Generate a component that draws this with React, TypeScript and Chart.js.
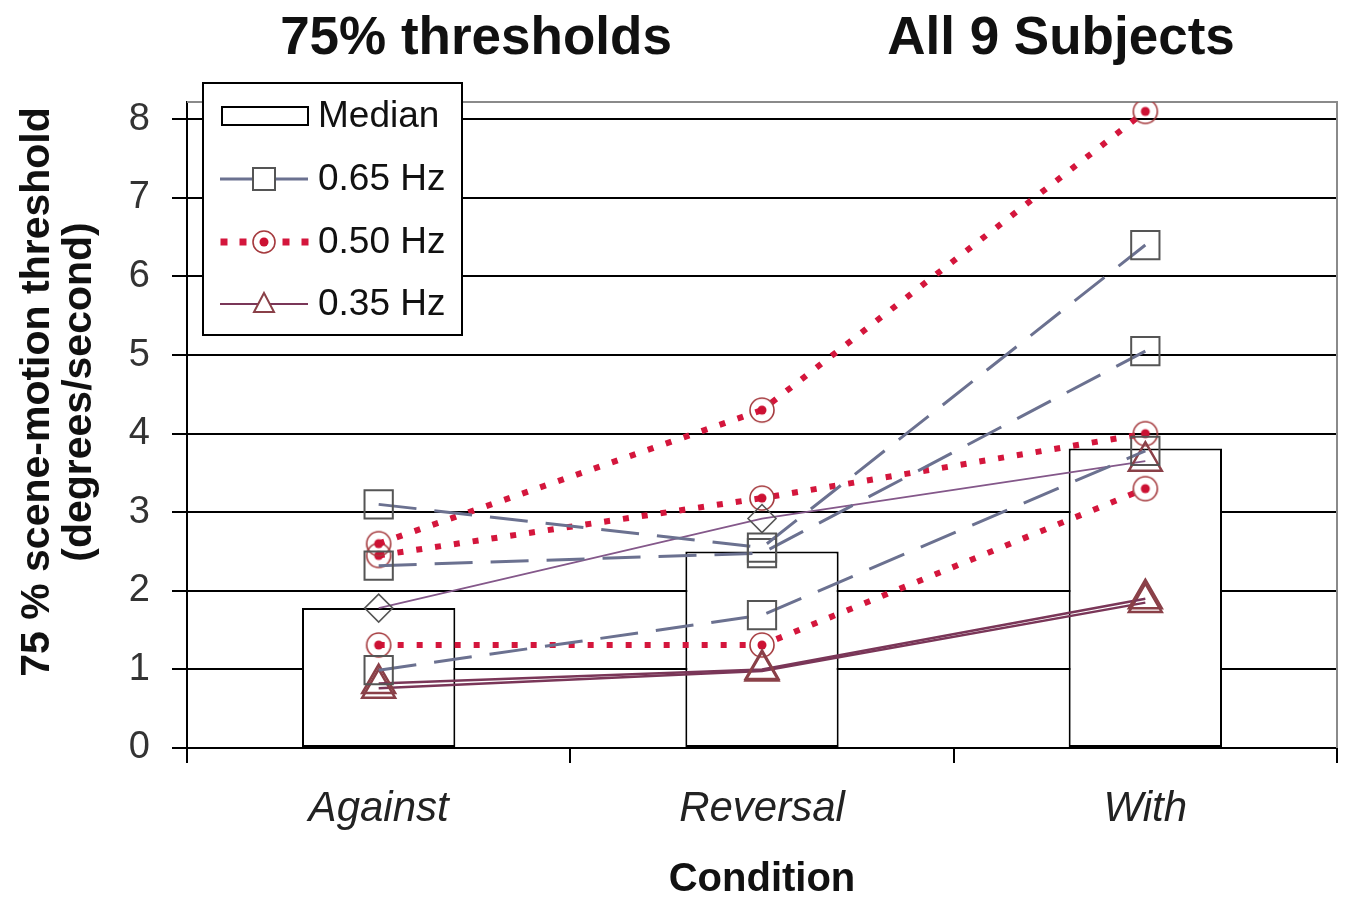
import React, { useEffect, useRef } from "react";
import { Chart, registerables } from "chart.js";

Chart.register(...registerables);

// ---------- data ----------
const categories = ["Against", "Reversal", "With"];
const median = [1.78, 2.5, 3.81];

const hz065_s1 = [3.1, 2.55, 6.4];
const hz065_s2 = [2.32, 2.48, 5.05];
const hz065_s3 = [0.99, 1.69, 3.78];

const hz050_s1 = [2.6, 4.3, 8.1];
const hz050_s2 = [2.45, 3.18, 4.0];
const hz050_s3 = [1.31, 1.31, 3.3];

const hz035_s1 = [0.82, 1.0, 1.9];
const hz035_s2 = [0.76, 0.98, 1.85];
const hz035_s3 = [1.78, 2.92, 3.65];

const yTicks = [0, 1, 2, 3, 4, 5, 6, 7, 8];
const legendLabels = ["Median", "0.65 Hz", "0.50 Hz", "0.35 Hz"];
const titleLeft = "75% thresholds";
const titleRight = "All 9 Subjects";
const yTitle = ["75 % scene-motion threshold", "(degrees/second)"];
const xTitle = "Condition";

// ---------- styles ----------
const FONT = '"Liberation Sans", Arial, sans-serif';
const C065 = "#6b7190";
const C050 = "#d4163c";
const C035 = "#7a3658";
const C035b = "#84588a";
const SQ_BORDER = "#555555";
const TRI_BORDER = "#8a4048";

function makeCircleDot(size: number): HTMLCanvasElement {
  const c = document.createElement("canvas");
  c.width = size;
  c.height = size;
  const g = c.getContext("2d")!;
  const m = size / 2;
  g.strokeStyle = "#a53a3e";
  g.lineWidth = 1.6;
  g.beginPath();
  g.arc(m, m, m - 2, 0, Math.PI * 2);
  g.stroke();
  g.fillStyle = "#cc1133";
  g.beginPath();
  g.arc(m, m, 4.5, 0, Math.PI * 2);
  g.fill();
  return c;
}

export default function App() {
  const canvasRef = useRef<HTMLCanvasElement | null>(null);

  useEffect(() => {
    const canvas = canvasRef.current;
    if (!canvas) return;
    const circleDot = makeCircleDot(28);
    const circleDotSmall = makeCircleDot(26);

    const line065 = (data: number[]) => ({
      type: "line" as const,
      data,
      borderColor: C065,
      borderWidth: 3,
      borderDash: [38, 18],
      pointStyle: "rect",
      pointRadius: 20,
      pointBorderColor: SQ_BORDER,
      pointBorderWidth: 2,
      pointBackgroundColor: "rgba(0,0,0,0)",
      fill: false,
      tension: 0,
      order: 1,
    });
    const line050 = (data: number[]) => ({
      type: "line" as const,
      data,
      borderColor: C050,
      borderWidth: 6,
      borderDash: [6, 13],
      pointStyle: circleDot,
      pointRadius: 14,
      fill: false,
      tension: 0,
      order: 1,
    });
    const line035 = (data: number[]) => ({
      type: "line" as const,
      data,
      borderColor: C035,
      borderWidth: 2.5,
      pointStyle: "triangle",
      pointRadius: 19,
      pointBorderColor: TRI_BORDER,
      pointBorderWidth: 2.5,
      pointBackgroundColor: "rgba(0,0,0,0)",
      fill: false,
      tension: 0,
      order: 1,
    });

    const frame = {
      id: "frame",
      beforeDatasetsDraw(chart: any) {
        const { ctx, chartArea } = chart;
        ctx.save();
        ctx.strokeStyle = "#8a8a8a";
        ctx.lineWidth = 2;
        ctx.beginPath();
        ctx.moveTo(chartArea.left, chartArea.top);
        ctx.lineTo(chartArea.right, chartArea.top);
        ctx.lineTo(chartArea.right, chartArea.bottom);
        ctx.stroke();
        ctx.restore();
      },
    };

    const boxLegend = {
      id: "boxLegend",
      afterDraw(chart: any) {
        const ctx = chart.ctx as CanvasRenderingContext2D;
        ctx.save();
        const x0 = 203, y0 = 83, w = 259, h = 252;
        ctx.fillStyle = "#ffffff";
        ctx.fillRect(x0, y0, w, h);
        ctx.strokeStyle = "#000";
        ctx.lineWidth = 2;
        ctx.strokeRect(x0, y0, w, h);
        const rows = [116, 179, 242, 304];
        const sx0 = 220, sx1 = 308, mx = 264;
        // Median swatch
        ctx.strokeStyle = "#000";
        ctx.lineWidth = 2;
        ctx.strokeRect(222, rows[0] - 9, 86, 18);
        // 0.65
        ctx.strokeStyle = C065;
        ctx.lineWidth = 3;
        ctx.beginPath();
        ctx.moveTo(sx0, rows[1]);
        ctx.lineTo(sx1, rows[1]);
        ctx.stroke();
        ctx.fillStyle = "#fff";
        ctx.fillRect(mx - 11, rows[1] - 11, 22, 22);
        ctx.strokeStyle = SQ_BORDER;
        ctx.lineWidth = 2;
        ctx.strokeRect(mx - 11, rows[1] - 11, 22, 22);
        // 0.50
        ctx.fillStyle = C050;
        [224, 243, 286, 305].forEach((dx) => {
          ctx.fillRect(dx - 3.5, rows[2] - 3.5, 7, 7);
        });
        ctx.drawImage(circleDotSmall, mx - 13, rows[2] - 13);
        // 0.35
        ctx.strokeStyle = C035;
        ctx.lineWidth = 2;
        ctx.beginPath();
        ctx.moveTo(sx0, rows[3]);
        ctx.lineTo(sx1, rows[3]);
        ctx.stroke();
        ctx.strokeStyle = TRI_BORDER;
        ctx.lineWidth = 2;
        ctx.beginPath();
        ctx.moveTo(mx, rows[3] - 11);
        ctx.lineTo(mx + 10, rows[3] + 8);
        ctx.lineTo(mx - 10, rows[3] + 8);
        ctx.closePath();
        ctx.fillStyle = "#fff";
        ctx.fill();
        ctx.stroke();
        // text
        ctx.fillStyle = "#111";
        ctx.font = `37px ${FONT}`;
        ctx.textBaseline = "middle";
        ctx.textAlign = "left";
        legendLabels.forEach((t, i) => ctx.fillText(t, 318, rows[i] + 1));
        ctx.restore();
      },
    };

    const chart = new Chart(canvas, {
      type: "bar",
      data: {
        labels: categories,
        datasets: [
          {
            type: "bar",
            label: "Median",
            data: median,
            backgroundColor: "#ffffff",
            borderColor: "#000000",
            borderWidth: 2,
            borderSkipped: false,
            barPercentage: 0.4,
            categoryPercentage: 1,
            order: 10,
          } as any,
          line065(hz065_s1),
          line065(hz065_s2),
          line065(hz065_s3),
          {
            ...line035(hz035_s3),
            borderColor: C035b,
            borderWidth: 1.8,
            pointStyle: ["rectRot", "rectRot", "triangle"],
            pointRadius: [14, 14, 19],
            pointBorderColor: [SQ_BORDER, SQ_BORDER, TRI_BORDER],
            pointBorderWidth: [1.6, 1.6, 2.5],
          },
          line035(hz035_s1),
          line035(hz035_s2),
          line050(hz050_s1),
          line050(hz050_s2),
          line050(hz050_s3),
        ] as any,
      },
      options: {
        animation: false,
        responsive: false,
        layout: { autoPadding: false, padding: { top: 102, left: 0, right: 9, bottom: 0 } },
        plugins: {
          legend: { display: false },
          tooltip: { enabled: false },
          title: { display: false },
        },
        scales: {
          x: {
            type: "category",
            offset: true,
            grid: {
              offset: true,
              drawOnChartArea: false,
              drawTicks: true,
              tickLength: 15,
              color: "#000",
              lineWidth: 2,
            },
            border: { display: true, color: "#000", width: 2 },
            ticks: {
              color: "#222",
              padding: 21,
              font: { family: FONT, size: 42, style: "italic" },
            },
            title: {
              display: true,
              text: xTitle,
              color: "#111",
              padding: { top: 0, bottom: -4 },
              font: { family: FONT, size: 40, weight: "bold" },
            },
            afterFit(scale: any) {
              scale.height = 152;
              scale.paddingLeft = 0;
              scale.paddingRight = 0;
            },
          },
          y: {
            min: 0,
            max: 8.22,
            grid: {
              drawOnChartArea: true,
              drawTicks: true,
              tickLength: 15,
              color: "#000",
              lineWidth: 2,
            },
            border: { display: true, color: "#000", width: 2 },
            ticks: {
              color: "#333",
              padding: 22,
              font: { family: FONT, size: 38 },
            },
            afterBuildTicks(scale: any) {
              scale.ticks = yTicks.map((v) => ({ value: v }));
            },
            afterFit(scale: any) {
              scale.width = 187;
              scale.paddingTop = 0;
              scale.paddingBottom = 0;
            },
          },
        },
      } as any,
      plugins: [frame, boxLegend],
    });
    return () => chart.destroy();
  }, []);

  const titleStyle: React.CSSProperties = {
    position: "absolute",
    top: 35,
    transform: "translate(-50%, -50%)",
    fontFamily: FONT,
    fontWeight: "bold",
    fontSize: 53,
    color: "#111",
    whiteSpace: "nowrap",
    lineHeight: 1,
  };
  const yTitleStyle = (x: number): React.CSSProperties => ({
    position: "absolute",
    left: x,
    top: 392,
    transform: "translate(-50%, -50%) rotate(-90deg)",
    fontFamily: FONT,
    fontWeight: "bold",
    fontSize: 41,
    color: "#111",
    whiteSpace: "nowrap",
    lineHeight: 1,
  });

  return (
    <div
      style={{
        position: "fixed",
        left: 0,
        top: 0,
        width: 1346,
        height: 900,
        background: "#fff",
        overflow: "hidden",
      }}
    >
      <canvas ref={canvasRef} width={1346} height={900} style={{ display: "block" }} />
      <div style={{ ...titleStyle, left: 476 }}>{titleLeft}</div>
      <div style={{ ...titleStyle, left: 1061 }}>{titleRight}</div>
      <div style={yTitleStyle(35)}>{yTitle[0]}</div>
      <div style={yTitleStyle(77)}>{yTitle[1]}</div>
    </div>
  );
}
